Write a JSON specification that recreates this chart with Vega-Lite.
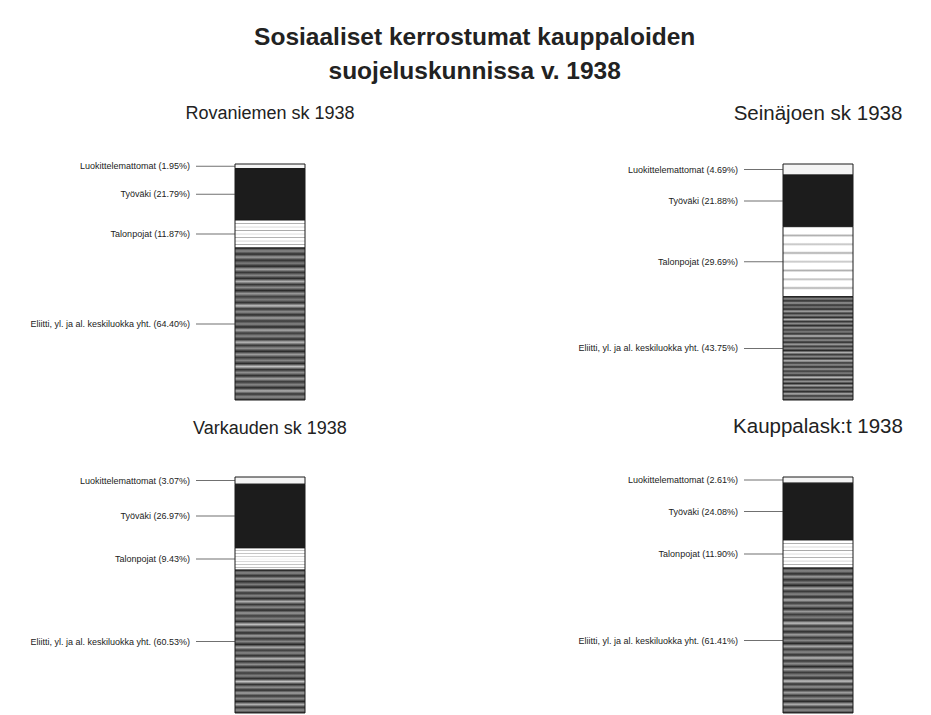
{
  "$schema": "https://vega.github.io/schema/vega-lite/v6.json",
  "padding": {"left": 30, "top": 25, "right": 10, "bottom": 0},
  "title": {
    "text": ["Sosiaaliset kerrostumat kauppaloiden", "suojeluskunnissa v. 1938"],
    "font": "Liberation Sans",
    "fontSize": 24.5,
    "fontWeight": "bold",
    "color": "#222222",
    "lineHeight": 34,
    "anchor": "middle",
    "dx": 8,
    "offset": 19.5
  },
  "data": {
    "values": [
      {"panel": "Rovaniemen sk 1938", "klass": "Luokittelemattomat", "ord": 1, "pct": 1.95},
      {"panel": "Rovaniemen sk 1938", "klass": "Työväki", "ord": 2, "pct": 21.79},
      {"panel": "Rovaniemen sk 1938", "klass": "Talonpojat", "ord": 3, "pct": 11.87},
      {"panel": "Rovaniemen sk 1938", "klass": "Eliitti, yl. ja al. keskiluokka yht.", "ord": 4, "pct": 64.40},
      {"panel": "Seinäjoen sk 1938", "klass": "Luokittelemattomat", "ord": 1, "pct": 4.69},
      {"panel": "Seinäjoen sk 1938", "klass": "Työväki", "ord": 2, "pct": 21.88},
      {"panel": "Seinäjoen sk 1938", "klass": "Talonpojat", "ord": 3, "pct": 29.69},
      {"panel": "Seinäjoen sk 1938", "klass": "Eliitti, yl. ja al. keskiluokka yht.", "ord": 4, "pct": 43.75},
      {"panel": "Varkauden sk 1938", "klass": "Luokittelemattomat", "ord": 1, "pct": 3.07},
      {"panel": "Varkauden sk 1938", "klass": "Työväki", "ord": 2, "pct": 26.97},
      {"panel": "Varkauden sk 1938", "klass": "Talonpojat", "ord": 3, "pct": 9.43},
      {"panel": "Varkauden sk 1938", "klass": "Eliitti, yl. ja al. keskiluokka yht.", "ord": 4, "pct": 60.53},
      {"panel": "Kauppalask:t 1938", "klass": "Luokittelemattomat", "ord": 1, "pct": 2.61},
      {"panel": "Kauppalask:t 1938", "klass": "Työväki", "ord": 2, "pct": 24.08},
      {"panel": "Kauppalask:t 1938", "klass": "Talonpojat", "ord": 3, "pct": 11.90},
      {"panel": "Kauppalask:t 1938", "klass": "Eliitti, yl. ja al. keskiluokka yht.", "ord": 4, "pct": 61.41}
    ]
  },
  "facet": {
    "field": "panel",
    "type": "nominal",
    "title": null,
    "sort": ["Rovaniemen sk 1938", "Seinäjoen sk 1938", "Varkauden sk 1938", "Kauppalask:t 1938"]
  },
  "columns": 2,
  "spacing": {"column": 478, "row": 77},
  "bounds": "flush",
  "spec": {
    "width": 70,
    "height": 236,
    "encoding": {
      "y": {
        "field": "pct",
        "type": "quantitative",
        "stack": "zero",
        "axis": null,
        "scale": {"reverse": true, "nice": false}
      },
      "detail": {"field": "klass", "type": "nominal"},
      "order": {"field": "ord", "type": "quantitative"}
    },
    "layer": [
      {
        "mark": {"type": "bar", "stroke": "#1a1a1a", "strokeWidth": 1},
        "encoding": {
          "x": {"datum": "bar", "type": "nominal", "axis": null, "scale": {"paddingInner": 0, "paddingOuter": 0}},
          "fill": {
            "condition": [
              {"test": "datum.klass === 'Työväki'", "value": "#1c1c1c"},
              {"test": "datum.klass === 'Talonpojat'", "value": {
                "gradient": "linear", "x1": 0, "y1": 0, "x2": 0, "y2": 1,
                "stops": [
                  {"offset": 0, "color": "#ffffff"}, {"offset": 0.1, "color": "#ffffff"},
                  {"offset": 0.125, "color": "#b0b0b0"}, {"offset": 0.15, "color": "#ffffff"},
                  {"offset": 0.225, "color": "#ffffff"}, {"offset": 0.25, "color": "#c0c0c0"},
                  {"offset": 0.275, "color": "#ffffff"}, {"offset": 0.35, "color": "#ffffff"},
                  {"offset": 0.375, "color": "#a8a8a8"}, {"offset": 0.4, "color": "#ffffff"},
                  {"offset": 0.475, "color": "#ffffff"}, {"offset": 0.5, "color": "#c4c4c4"},
                  {"offset": 0.525, "color": "#ffffff"}, {"offset": 0.6, "color": "#ffffff"},
                  {"offset": 0.625, "color": "#b0b0b0"}, {"offset": 0.65, "color": "#ffffff"},
                  {"offset": 0.725, "color": "#ffffff"}, {"offset": 0.75, "color": "#bcbcbc"},
                  {"offset": 0.775, "color": "#ffffff"}, {"offset": 0.85, "color": "#ffffff"},
                  {"offset": 0.875, "color": "#acacac"}, {"offset": 0.9, "color": "#ffffff"},
                  {"offset": 1, "color": "#ffffff"}
                ]
              }},
              {"test": "datum.ord === 4", "value": {
                "gradient": "linear", "x1": 0, "y1": 0, "x2": 0, "y2": 1,
                "stops": [
                  {"offset": 0, "color": "#3a3a3a"}, {"offset": 0.02, "color": "#8a8a8a"},
                  {"offset": 0.04, "color": "#2c2c2c"}, {"offset": 0.06, "color": "#9c9c9c"},
                  {"offset": 0.08, "color": "#303030"}, {"offset": 0.1, "color": "#7e7e7e"},
                  {"offset": 0.12, "color": "#262626"}, {"offset": 0.14, "color": "#a8a8a8"},
                  {"offset": 0.16, "color": "#343434"}, {"offset": 0.18, "color": "#888888"},
                  {"offset": 0.2, "color": "#2a2a2a"}, {"offset": 0.22, "color": "#b0b0b0"},
                  {"offset": 0.24, "color": "#363636"}, {"offset": 0.26, "color": "#8c8c8c"},
                  {"offset": 0.28, "color": "#282828"}, {"offset": 0.3, "color": "#9a9a9a"},
                  {"offset": 0.32, "color": "#3c3c3c"}, {"offset": 0.34, "color": "#808080"},
                  {"offset": 0.36, "color": "#2e2e2e"}, {"offset": 0.38, "color": "#c0c0c0"},
                  {"offset": 0.4, "color": "#323232"}, {"offset": 0.42, "color": "#909090"},
                  {"offset": 0.44, "color": "#2a2a2a"}, {"offset": 0.46, "color": "#a0a0a0"},
                  {"offset": 0.48, "color": "#383838"}, {"offset": 0.5, "color": "#868686"},
                  {"offset": 0.52, "color": "#262626"}, {"offset": 0.54, "color": "#acacac"},
                  {"offset": 0.56, "color": "#3a3a3a"}, {"offset": 0.58, "color": "#8a8a8a"},
                  {"offset": 0.6, "color": "#2c2c2c"}, {"offset": 0.62, "color": "#b8b8b8"},
                  {"offset": 0.64, "color": "#343434"}, {"offset": 0.66, "color": "#909090"},
                  {"offset": 0.68, "color": "#282828"}, {"offset": 0.7, "color": "#9e9e9e"},
                  {"offset": 0.72, "color": "#3a3a3a"}, {"offset": 0.74, "color": "#848484"},
                  {"offset": 0.76, "color": "#2a2a2a"}, {"offset": 0.78, "color": "#c4c4c4"},
                  {"offset": 0.8, "color": "#303030"}, {"offset": 0.82, "color": "#929292"},
                  {"offset": 0.84, "color": "#2c2c2c"}, {"offset": 0.86, "color": "#a4a4a4"},
                  {"offset": 0.88, "color": "#363636"}, {"offset": 0.9, "color": "#8a8a8a"},
                  {"offset": 0.92, "color": "#262626"}, {"offset": 0.94, "color": "#b2b2b2"},
                  {"offset": 0.96, "color": "#343434"}, {"offset": 0.98, "color": "#8e8e8e"},
                  {"offset": 1, "color": "#2e2e2e"}
                ]
              }}
            ],
            "value": "#f4f4f4"
          }
        }
      },
      {
        "mark": {"type": "tick", "orient": "horizontal", "color": "#333333", "size": 39, "thickness": 1, "xOffset": -54.5},
        "encoding": {
          "y": {"field": "pct", "type": "quantitative", "stack": "zero", "bandPosition": 0.5}
        }
      },
      {
        "mark": {
          "type": "text",
          "font": "Liberation Sans",
          "fontSize": 9,
          "color": "#222222",
          "align": "right",
          "baseline": "middle",
          "dx": -80,
          "text": {"expr": "datum.klass + ' (' + format(datum.pct, '.2f') + '%)'"}
        },
        "encoding": {
          "y": {"field": "pct", "type": "quantitative", "stack": "zero", "bandPosition": 0.5}
        }
      }
    ]
  },
  "config": {
    "view": {"stroke": null},
    "header": {
      "labelFont": "Liberation Sans",
      "labelFontSize": {"expr": "(parent && (parent.panel === 'Seinäjoen sk 1938' || parent.panel === 'Kauppalask:t 1938')) ? 20.5 : 18"},
      "labelColor": "#222222",
      "labelPadding": 39
    }
  }
}
